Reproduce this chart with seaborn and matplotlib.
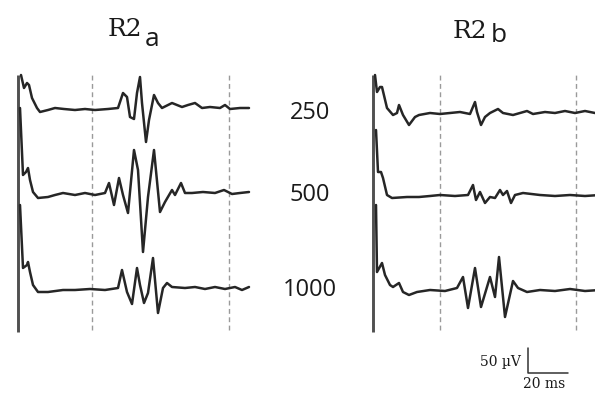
import matplotlib
matplotlib.use("Agg")
import matplotlib.pyplot as plt
import numpy as np
import pandas as pd
import seaborn as sns

# ---------------- data (time in ms after stimulus, amplitude in µV) ----------------
intensities = ["250", "500", "1000"]

r2a_250_t = [1.5, 3, 4.5, 5.5, 7, 9.5, 11, 15, 18.5, 23, 28.5, 33.5, 38.5, 45, 50, 52.5, 54.5, 56, 58,
             59.5, 61, 62, 64, 65.5, 68, 70, 72, 77, 79.5, 82, 85, 88.5, 92, 96, 101, 103.5, 106, 111, 115.5]
r2a_250_v = [70, 44, 54, 50, 24, 4, -4, 0, 4, 2, 0, 2, 0, 2, 4, 34, 26, -14, -18,
             34, 66, 14, -64, -20, 30, 14, 4, 14, 10, 6, 10, 14, 4, 6, 4, 10, 2, 4, 4]

r2a_500_t = [1, 2.5, 4, 5, 6, 7.5, 10, 15, 18.5, 22.5, 28.5, 33.5, 38.5, 43.5, 45.5, 48, 50.5, 52.5,
             55, 58, 60, 62.5, 65, 68, 71, 73.5, 77, 78.5, 81.5, 83.5, 87, 92.5, 98.5, 103, 107, 111, 115.5]
r2a_500_v = [174, 40, 46, 54, 30, 6, -6, -4, 0, 4, 0, 4, 0, 4, 24, -20, 34, 0,
             -36, 90, 50, -114, -4, 90, -34, -14, 10, 0, 24, 4, 4, 6, 4, 10, 2, 4, 6]

r2a_1000_t = [1, 2.5, 4.5, 5, 6, 7.5, 10, 15, 22.5, 28.5, 36, 43.5, 50, 52, 54.5, 57, 59.5, 61, 63,
              65, 67.5, 70, 72.5, 74.5, 77, 83.5, 88.5, 93.5, 98.5, 103.5, 108.5, 112, 115.5]
r2a_1000_v = [170, 44, 50, 56, 36, 10, -4, -4, 0, 0, 2, 0, 4, 40, -4, -28, 44, 10, -26,
              -6, 64, -46, 4, 14, 6, 4, 6, 2, 6, 2, 6, 0, 6]

r2b_250_t = [1, 2, 3.5, 4.5, 7, 10, 12, 13, 15, 18, 21, 23, 28.5, 33.5, 38.5, 43.5, 48.5, 51, 52, 54,
             56, 58.5, 62.5, 65, 70, 77, 80, 86, 91, 96, 101, 106, 111, 113.5]
r2b_250_v = [76, 42, 52, 52, 10, -4, 0, 16, -4, -24, -8, -4, 0, -2, 0, 2, -2, 22, 2, -24,
             -8, 0, 8, 0, -4, 4, -2, 2, 0, 4, 0, 4, 0, 0]

r2b_500_t = [1.5, 2.5, 4, 5, 7, 9.5, 17, 23, 28.5, 33.5, 41, 47.5, 50, 51.5, 53.5, 56, 58.5, 61,
             63.5, 65, 67, 69, 71, 75, 83.5, 91, 98.5, 106, 113.5]
r2b_500_v = [132, 48, 48, 36, 2, -4, -2, -2, 0, 2, 0, 2, 22, -8, 8, -14, -2, -4,
             12, 2, 10, -14, 2, 6, 2, 0, 2, 0, 2]

r2b_1000_t = [1.5, 2, 4.5, 6, 8.5, 10, 13, 15, 18, 22, 28.5, 36, 42, 45, 47.5, 51, 54, 58.5, 61,
              63, 66, 70, 72.5, 77, 83.5, 91, 98.5, 106, 113.5]
r2b_1000_v = [172, 38, 56, 32, 12, 8, 16, -2, -8, -2, 2, 0, 6, 28, -34, 46, -32, 28, -12,
              68, -52, 20, 6, -2, 2, 0, 4, 0, 2]

dashed_a = [37, 105.5]     # window markers (ms), panel R2a
dashed_b = [33.5, 101.5]   # window markers (ms), panel R2b

# ---------------- layout constants ----------------
PXW, PXH = 595, 394
row_offsets_a = [460, 290, 100]
row_offsets_b = [454, 288, 98]

def build(ts, vs, offsets):
    frames = []
    for lab, t, v, off in zip(intensities, ts, vs, offsets):
        frames.append(pd.DataFrame({"t": t, "y": np.array(v) + off, "intensity": lab}))
    return pd.concat(frames, ignore_index=True)

df_a = build([r2a_250_t, r2a_500_t, r2a_1000_t], [r2a_250_v, r2a_500_v, r2a_1000_v], row_offsets_a)
df_b = build([r2b_250_t, r2b_500_t, r2b_1000_t], [r2b_250_v, r2b_500_v, r2b_1000_v], row_offsets_b)

sns.set_theme(style="white")
plt.rcParams["font.family"] = ["DejaVu Sans"]

fig = plt.figure(figsize=(PXW / 100, PXH / 100), dpi=100)
fig.patch.set_facecolor("white")

# axes: 2 px per ms, 0.5 px per µV ; y data = (340 - py) * 2
ax_a = fig.add_axes([0, 0, 297 / PXW, 1])
ax_b = fig.add_axes([297 / PXW, 0, 298 / PXW, 1])
ax_a.set_xlim((0 - 18) / 2, (297 - 18) / 2)
ax_b.set_xlim((297 - 373) / 2, (595 - 373) / 2)
for ax in (ax_a, ax_b):
    ax.set_ylim((340 - PXH) * 2, 340 * 2)
    ax.set_axis_off()

trace_col = "#262626"
for ax, df, dl in ((ax_a, df_a, dashed_a), (ax_b, df_b, dashed_b)):
    ax.vlines(dl, 20, 530, colors="#9a9a9a", linestyles=(0, (3.5, 2.5)), lw=1.0, zorder=1)
    ax.vlines([0], 16, 530, colors="#505050", lw=2.1, zorder=2)
    sns.lineplot(data=df, x="t", y="y", units="intensity", estimator=None, sort=False,
                 color=trace_col, lw=1.8, ax=ax, legend=False, zorder=3)
    for ln in ax.get_lines():
        ln.set_solid_joinstyle("round")
        ln.set_solid_capstyle("round")
    ax.set_axis_off()

# titles
txtc = "#1a1a1a"
fig.text(108 / PXW, 1 - 30 / PXH, "R2", family="DejaVu Serif", fontsize=18, va="center", ha="left", color=txtc)
fig.text(145 / PXW, 1 - 40 / PXH, "a", family="Open Sans", fontsize=19, va="center", ha="left", color=txtc)
fig.text(453 / PXW, 1 - 31 / PXH, "R2", family="DejaVu Serif", fontsize=18, va="center", ha="left", color=txtc)
fig.text(491 / PXW, 1 - 36 / PXH, "b", family="Open Sans", fontsize=19, va="center", ha="left", color=txtc)

# intensity labels
for lab, py in zip(intensities, [113, 195, 290]):
    fig.text(310 / PXW, 1 - py / PXH, lab, family="Open Sans", fontsize=17, ha="center", va="center", color=txtc)

# scale bar (20 ms, 50 µV) in R2b data coordinates
sx, sy = (528 - 373) / 2, (340 - 373) * 2
ax_b.plot([sx, sx, sx + 20], [sy + 50, sy, sy], color="#333333", lw=1.1, clip_on=False)
fig.text(521 / PXW, 1 - 362 / PXH, "50 µV", family="DejaVu Serif", fontsize=10, ha="right", va="center", color=txtc)
fig.text(544 / PXW, 1 - 384 / PXH, "20 ms", family="DejaVu Serif", fontsize=10, ha="center", va="center", color=txtc)

fig.savefig("out.png", dpi=100, facecolor="white")
